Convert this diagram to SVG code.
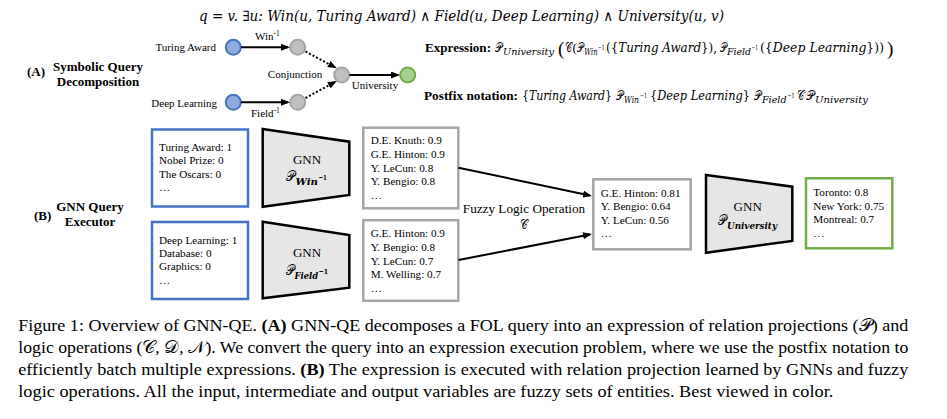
<svg xmlns="http://www.w3.org/2000/svg" width="947" height="419" viewBox="0 0 947 419">
<style>
  .t { font-family: "Liberation Serif", "Times New Roman", serif; fill: #000; }
  .b { font-weight: bold; }
  .lab { font-size: 11px; }
  .box { font-size: 11.2px; }
  .sec { font-size: 13px; font-weight: bold; }
  .m { font-family: "DejaVu Serif", "Liberation Serif", serif; font-style: italic; fill: #000; }
  .up { font-style: normal; }
  .scr { font-family: "DejaVu Serif", "Noto Sans", "DejaVu Sans", serif; font-style: normal; font-weight: normal; }
  .cb { fill: #8faadc; stroke: #4472c4; stroke-width: 2; }
  .cg { fill: #bfbfbf; stroke: #a5a5a5; stroke-width: 2; }
  .cgr { fill: #a9d18e; stroke: #70ad47; stroke-width: 2; }
  .rb { fill: #fff; stroke: #4472c4; stroke-width: 2.5; }
  .rg { fill: #fff; stroke: #a6a6a6; stroke-width: 2.5; }
  .rgr { fill: #fff; stroke: #70ad47; stroke-width: 2.5; }
  .trap { fill: #e7e6e6; stroke: #000; stroke-width: 2.5; stroke-linejoin: miter; }
  .ln { stroke: #000; stroke-width: 2; fill: none; }
  .dot { stroke: #000; stroke-width: 2; fill: none; stroke-dasharray: 2 2; }
</style>
<defs>
  <marker id="ah" markerUnits="userSpaceOnUse" markerWidth="9" markerHeight="7" refX="7" refY="3.5" orient="auto">
    <path d="M0,0 L9,3.5 L0,7 z" fill="#000"/>
  </marker>
</defs>

<!-- Query formula -->
<text id="query" class="m" x="199" y="21" font-size="14.5" textLength="525" lengthAdjust="spacingAndGlyphs">q = v. ∃u: Win(u, Turing Award) ∧ Field(u, Deep Learning) ∧ University(u, v)</text>

<!-- Section labels -->
<g id="labelA">
  <text class="t sec" x="27" y="76">(A)</text>
  <text class="t sec" x="98" y="71" text-anchor="middle">Symbolic Query</text>
  <text class="t sec" x="98" y="86" text-anchor="middle">Decomposition</text>
</g>
<g id="labelB">
  <text class="t sec" x="34" y="219.5">(B)</text>
  <text class="t sec" x="90" y="210.7" text-anchor="middle">GNN Query</text>
  <text class="t sec" x="90" y="226" text-anchor="middle">Executor</text>
</g>

<!-- Part A nodes -->
<g id="nTuring">
  <circle class="cb" cx="233.3" cy="47.3" r="7.5"/>
  <text class="t lab" x="216" y="51" text-anchor="end">Turing Award</text>
</g>
<g id="nDeep">
  <circle class="cb" cx="233.3" cy="102.3" r="7.5"/>
  <text class="t lab" x="217" y="106.5" text-anchor="end">Deep Learning</text>
</g>
<g id="nG1"><circle class="cg" cx="297.7" cy="47.3" r="7.5"/></g>
<g id="nG2"><circle class="cg" cx="297.7" cy="102.3" r="7.5"/></g>
<g id="nConj">
  <circle class="cg" cx="341.7" cy="75" r="7.5"/>
  <text class="t lab" x="295" y="77.7" text-anchor="middle">Conjunction</text>
</g>
<g id="nAns"><circle class="cgr" cx="407.7" cy="75" r="7.5"/></g>

<!-- Expressions -->
<g id="expression">
  <text class="t b" x="425" y="52" font-size="13" textLength="66" lengthAdjust="spacingAndGlyphs">Expression:</text>
  <text class="m" font-size="12.5" lengthAdjust="spacingAndGlyphs"><tspan class="scr" x="494.7" y="52" font-size="13" textLength="7" lengthAdjust="spacingAndGlyphs">𝒫</tspan><tspan x="503" y="55" font-size="9" textLength="51" lengthAdjust="spacingAndGlyphs">University</tspan><tspan class="t up" x="558" y="54.5" font-size="19">(</tspan><tspan class="scr" x="565" y="52" font-size="13" textLength="6.8" lengthAdjust="spacingAndGlyphs">𝒞</tspan><tspan class="t up" x="572.5" y="52" font-size="13">(</tspan><tspan class="scr" x="577" y="52" font-size="13" textLength="6.3" lengthAdjust="spacingAndGlyphs">𝒫</tspan><tspan x="584.3" y="55" font-size="9" textLength="13.2" lengthAdjust="spacingAndGlyphs">Win</tspan><tspan class="up" x="598" y="49.5" font-size="7" textLength="6.5" lengthAdjust="spacingAndGlyphs">−1</tspan><tspan x="606" y="52" textLength="111" lengthAdjust="spacingAndGlyphs"><tspan class="up">({</tspan>Turing Award<tspan class="up">}),</tspan></tspan><tspan class="scr" x="719.5" y="52" font-size="13" textLength="6.5" lengthAdjust="spacingAndGlyphs">𝒫</tspan><tspan x="727" y="55" font-size="9" textLength="24" lengthAdjust="spacingAndGlyphs">Field</tspan><tspan class="up" x="751.5" y="49.5" font-size="7" textLength="6.5" lengthAdjust="spacingAndGlyphs">−1</tspan><tspan x="760" y="52" textLength="124" lengthAdjust="spacingAndGlyphs"><tspan class="up">({</tspan>Deep Learning<tspan class="up">}))</tspan></tspan><tspan class="t up" x="887" y="54.5" font-size="19">)</tspan></text>
</g>
<g id="postfix">
  <text class="t b" x="424" y="100" font-size="13" textLength="94" lengthAdjust="spacingAndGlyphs">Postfix notation:</text>
  <text class="m" font-size="12.5"><tspan x="522" y="100" textLength="90" lengthAdjust="spacingAndGlyphs"><tspan class="up">{</tspan>Turing Award<tspan class="up">}</tspan></tspan><tspan class="scr" x="615.5" y="100" font-size="13" textLength="7" lengthAdjust="spacingAndGlyphs">𝒫</tspan><tspan x="624" y="103" font-size="9" textLength="15" lengthAdjust="spacingAndGlyphs">Win</tspan><tspan class="up" x="640" y="97.5" font-size="7" textLength="7" lengthAdjust="spacingAndGlyphs">−1</tspan><tspan x="650" y="100" textLength="100" lengthAdjust="spacingAndGlyphs"><tspan class="up">{</tspan>Deep Learning<tspan class="up">}</tspan></tspan><tspan class="scr" x="753.5" y="100" font-size="13" textLength="7" lengthAdjust="spacingAndGlyphs">𝒫</tspan><tspan x="762" y="103" font-size="9" textLength="24.5" lengthAdjust="spacingAndGlyphs">Field</tspan><tspan class="up" x="787.5" y="97.5" font-size="7" textLength="7" lengthAdjust="spacingAndGlyphs">−1</tspan><tspan class="scr" x="797" y="100" font-size="13" textLength="7" lengthAdjust="spacingAndGlyphs">𝒞</tspan><tspan class="scr" x="805.5" y="100" font-size="13" textLength="8" lengthAdjust="spacingAndGlyphs">𝒫</tspan><tspan x="815" y="103" font-size="9" textLength="53" lengthAdjust="spacingAndGlyphs">University</tspan></text>
</g>

<!-- Part B nodes -->
<g id="inTuring">
  <rect class="rb" x="152" y="129.5" width="96" height="77"/>
  <text class="t box" x="159" y="151">Turing Award: 1</text>
  <text class="t box" x="159" y="164.3">Nobel Prize: 0</text>
  <text class="t box" x="159" y="177.7">The Oscars: 0</text>
  <text class="t box" x="159" y="191">…</text>
</g>
<g id="inDeep">
  <rect class="rb" x="152" y="222" width="96" height="77"/>
  <text class="t box" x="159" y="243.7">Deep Learning: 1</text>
  <text class="t box" x="159" y="257">Database: 0</text>
  <text class="t box" x="159" y="270.3">Graphics: 0</text>
  <text class="t box" x="159" y="283.7">…</text>
</g>
<g id="gnnWin">
  <polygon class="trap" points="262.7,129 349.3,141.7 349.3,195 262.7,206.7"/>
  <text class="t" x="307" y="163.5" font-size="13" text-anchor="middle">GNN</text>
  <text class="m" font-weight="bold"><tspan class="scr" x="285.5" y="181" font-size="14" textLength="9" lengthAdjust="spacingAndGlyphs">𝒫</tspan><tspan x="295.5" y="185" font-size="10" textLength="22.5" lengthAdjust="spacingAndGlyphs">Win</tspan><tspan class="up" x="318.5" y="180" font-size="8" textLength="8.2" lengthAdjust="spacingAndGlyphs">−1</tspan></text>
</g>
<g id="gnnField">
  <polygon class="trap" points="262.7,221.7 349.3,235 349.3,287.7 262.7,298.3"/>
  <text class="t" x="307" y="256.7" font-size="13" text-anchor="middle">GNN</text>
  <text class="m" font-weight="bold"><tspan class="scr" x="285.5" y="275" font-size="14" textLength="8.5" lengthAdjust="spacingAndGlyphs">𝒫</tspan><tspan x="294.5" y="279" font-size="10" textLength="23.5" lengthAdjust="spacingAndGlyphs">Field</tspan><tspan class="up" x="318.5" y="274" font-size="8" textLength="9.5" lengthAdjust="spacingAndGlyphs">−1</tspan></text>
</g>
<g id="outWin">
  <rect class="rg" x="363.3" y="127.7" width="95" height="80.6"/>
  <text class="t box" x="370.7" y="144.3">D.E. Knuth: 0.9</text>
  <text class="t box" x="370.7" y="157.9">G.E. Hinton: 0.9</text>
  <text class="t box" x="370.7" y="171.5">Y. LeCun: 0.8</text>
  <text class="t box" x="370.7" y="185.1">Y. Bengio: 0.8</text>
  <text class="t box" x="370.7" y="198.7">…</text>
</g>
<g id="outField">
  <rect class="rg" x="363.3" y="220.2" width="95" height="80.6"/>
  <text class="t box" x="370.7" y="237.3">G.E. Hinton: 0.9</text>
  <text class="t box" x="370.7" y="250.9">Y. Bengio: 0.8</text>
  <text class="t box" x="370.7" y="264.5">Y. LeCun: 0.7</text>
  <text class="t box" x="370.7" y="278.1">M. Welling: 0.7</text>
  <text class="t box" x="370.7" y="291.7">…</text>
</g>
<g id="fuzzy">
  <text class="t" x="524" y="212.7" font-size="13.2" text-anchor="middle">Fuzzy Logic Operation</text>
  <text class="scr" x="519.5" y="228.5" font-size="13" textLength="7.5" lengthAdjust="spacingAndGlyphs">𝒞</text>
</g>
<g id="conjOut">
  <rect class="rg" x="593.3" y="179.3" width="97.4" height="70"/>
  <text class="t box" x="600.7" y="196.7">G.E. Hinton: 0.81</text>
  <text class="t box" x="600.7" y="210.2">Y. Bengio: 0.64</text>
  <text class="t box" x="600.7" y="223.7">Y. LeCun: 0.56</text>
  <text class="t box" x="600.7" y="237.2">…</text>
</g>
<g id="gnnUni">
  <polygon class="trap" points="706,175 792.3,186.7 792.3,241 706,252.7"/>
  <text class="t" x="747.7" y="210.7" font-size="13" text-anchor="middle">GNN</text>
  <text class="m" font-weight="bold"><tspan class="scr" x="718" y="225" font-size="14" textLength="8.5" lengthAdjust="spacingAndGlyphs">𝒫</tspan><tspan x="727" y="229" font-size="10" textLength="50" lengthAdjust="spacingAndGlyphs">University</tspan></text>
</g>
<g id="answer">
  <rect class="rgr" x="806" y="178.3" width="86.3" height="70"/>
  <text class="t box" x="813.3" y="196">Toronto: 0.8</text>
  <text class="t box" x="813.3" y="209.7">New York: 0.75</text>
  <text class="t box" x="813.3" y="223.4">Montreal: 0.7</text>
  <text class="t box" x="813.3" y="237.1">…</text>
</g>

<!-- Connectors -->
<g id="connectors">
  <line class="ln" x1="241" y1="47.3" x2="288" y2="47.3" marker-end="url(#ah)"/>
  <line class="ln" x1="241" y1="102.3" x2="288" y2="102.3" marker-end="url(#ah)"/>
  <line class="dot" x1="305.5" y1="51.5" x2="335" y2="67.3" marker-end="url(#ah)"/>
  <line class="dot" x1="305.5" y1="98" x2="335" y2="82" marker-end="url(#ah)"/>
  <line class="ln" x1="349.5" y1="75" x2="398" y2="75" marker-end="url(#ah)"/>
  <text class="t lab" x="255" y="40">Win<tspan font-size="7.5" dy="-4">-1</tspan></text>
  <text class="t lab" x="251" y="116.7">Field<tspan font-size="7.5" dy="-4">-1</tspan></text>
  <text class="t lab" x="351.7" y="89">University</text>
  <line class="ln" x1="458.5" y1="167.7" x2="590" y2="195.5" marker-end="url(#ah)"/>
  <line class="ln" x1="458.5" y1="260" x2="590" y2="234.4" marker-end="url(#ah)"/>
</g>

<!-- Caption -->
<g id="caption" class="t" font-size="16.5">
  <text x="18.3" y="330.7" textLength="890" lengthAdjust="spacingAndGlyphs">Figure 1: Overview of GNN-QE. <tspan class="b">(A)</tspan> GNN-QE decomposes a FOL query into an expression of relation projections (<tspan class="scr">𝒫</tspan>) and</text>
  <text x="18.3" y="353" textLength="890" lengthAdjust="spacingAndGlyphs">logic operations (<tspan class="scr">𝒞</tspan>, <tspan class="scr">𝒟</tspan>, <tspan class="scr">𝒩</tspan>). We convert the query into an expression execution problem, where we use the postfix notation to</text>
  <text x="18.3" y="375" textLength="890" lengthAdjust="spacingAndGlyphs">efficiently batch multiple expressions. <tspan class="b">(B)</tspan> The expression is executed with relation projection learned by GNNs and fuzzy</text>
  <text x="18.3" y="396.7" textLength="815" lengthAdjust="spacingAndGlyphs">logic operations. All the input, intermediate and output variables are fuzzy sets of entities. Best viewed in color.</text>
</g>
</svg>
